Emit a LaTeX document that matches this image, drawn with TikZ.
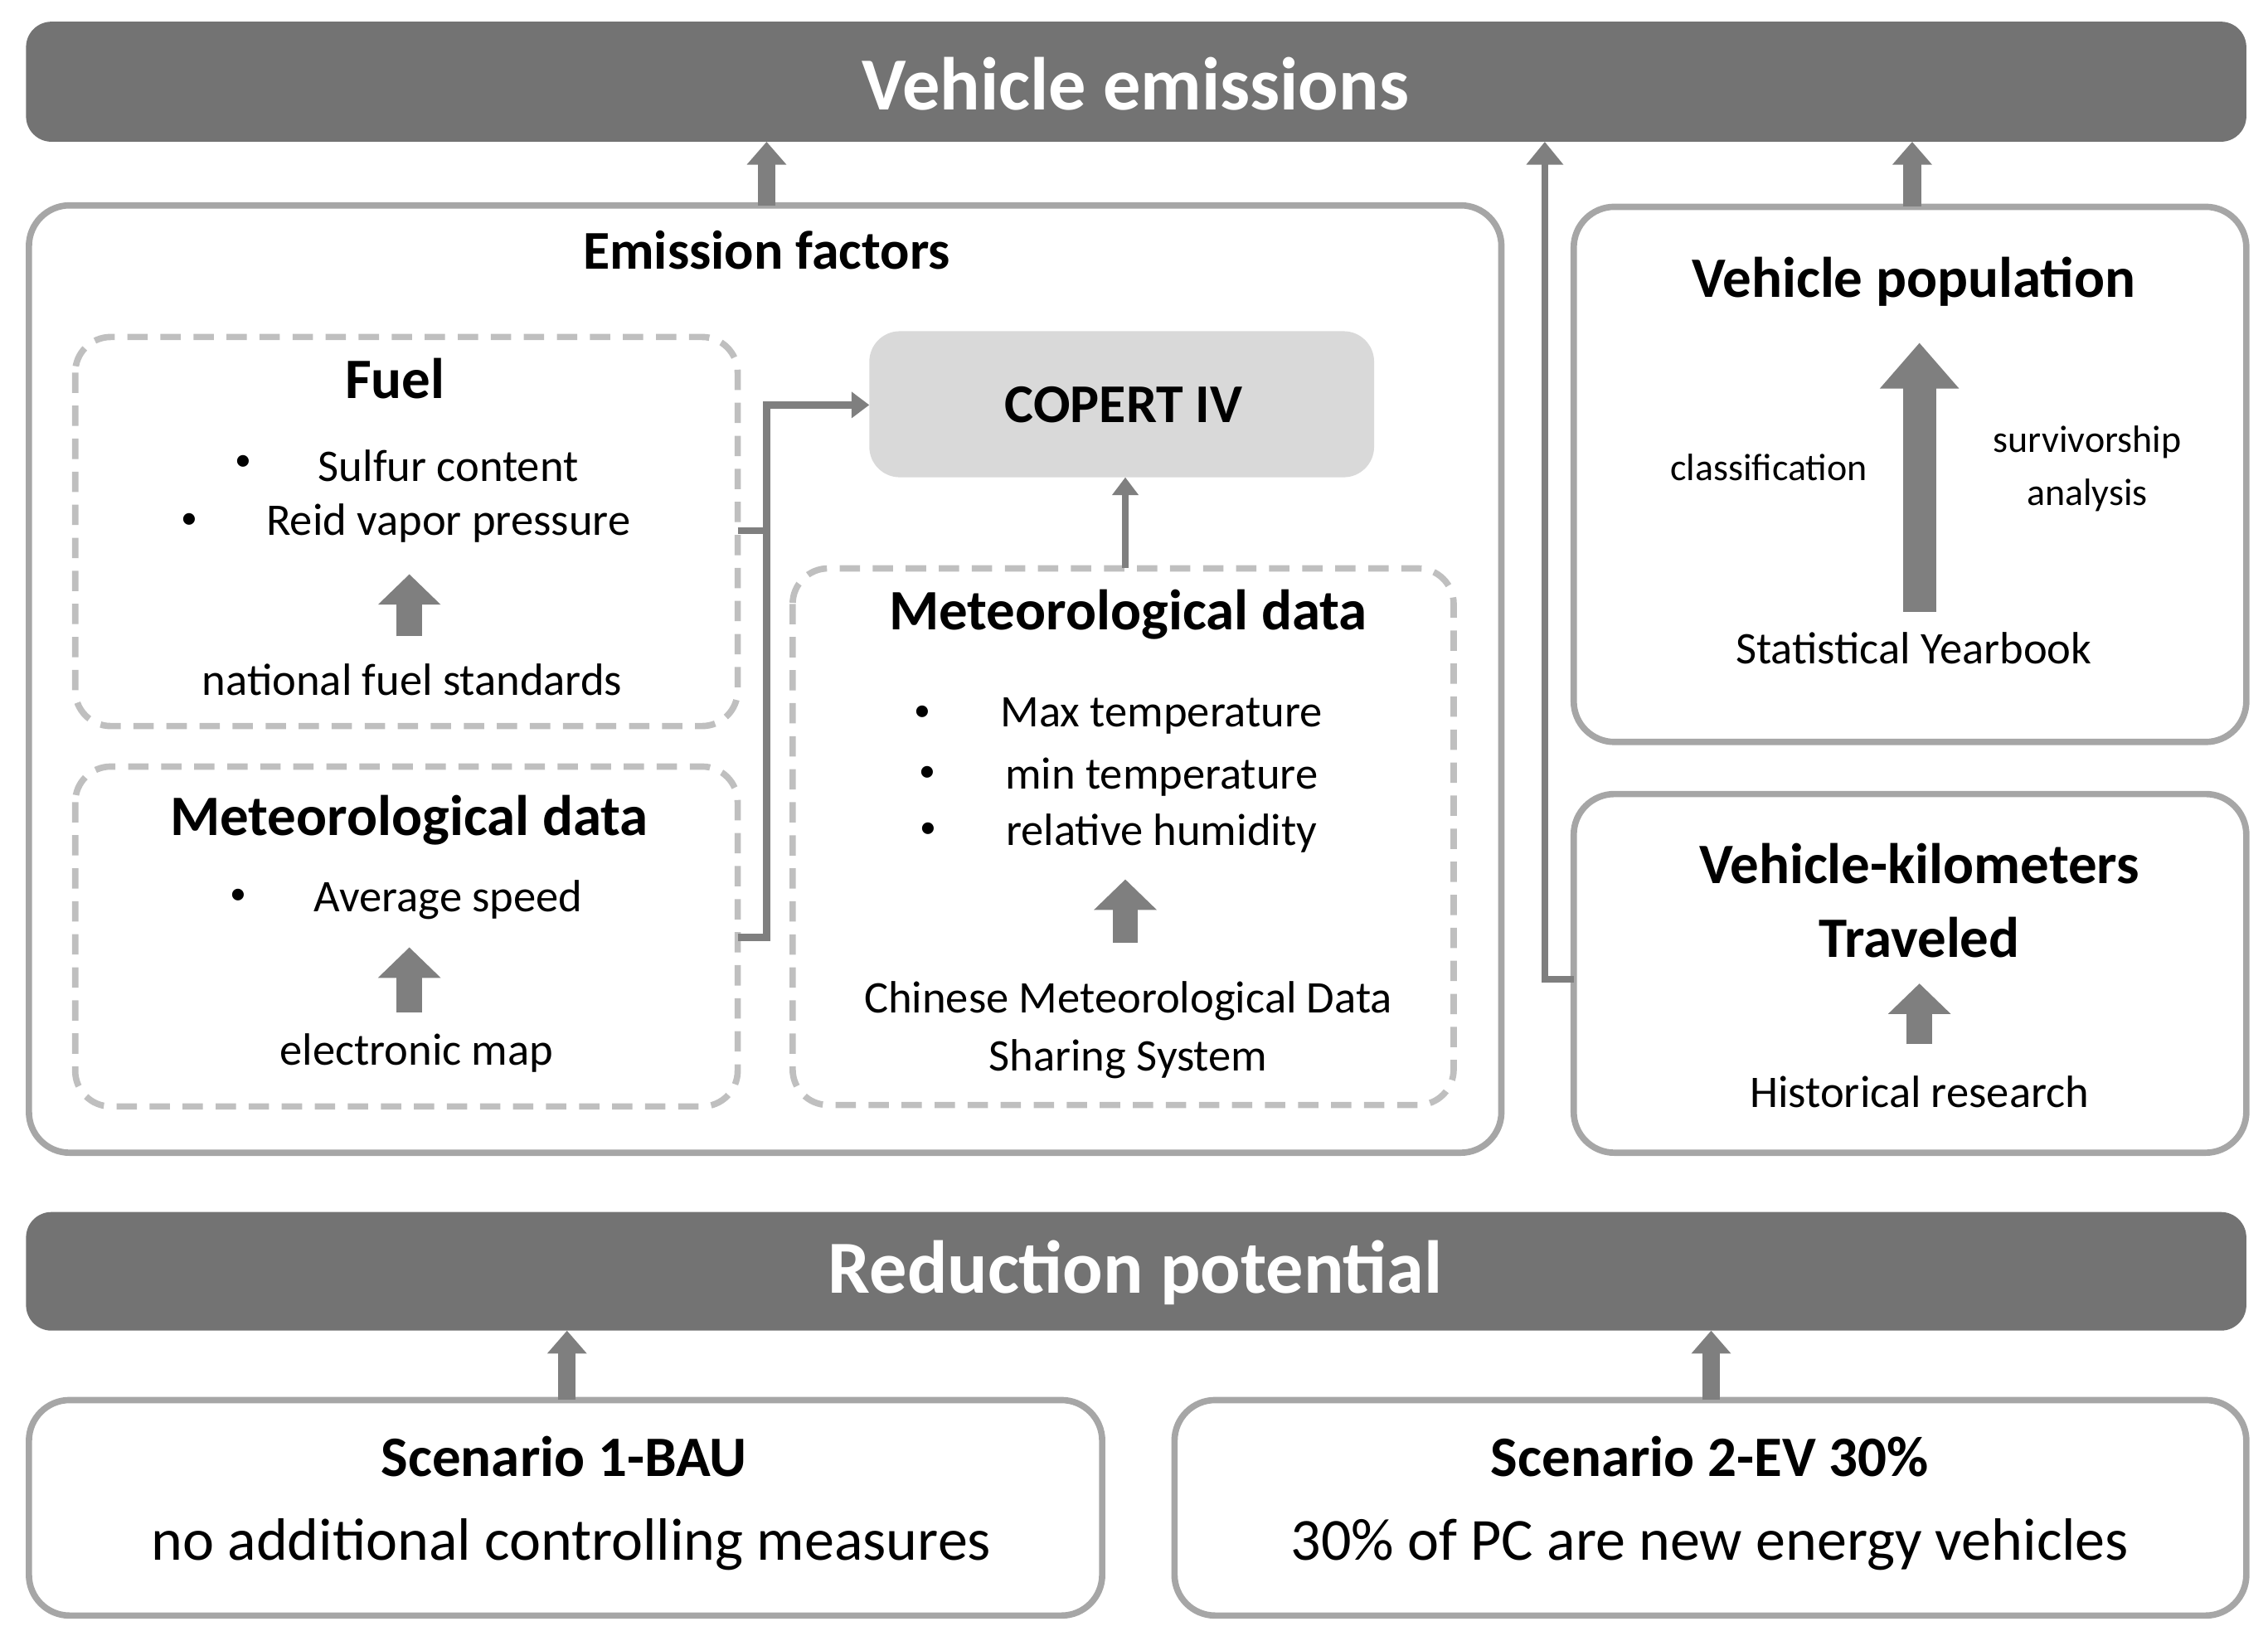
\documentclass[tikz,border=0pt]{standalone}
\usepackage{fontspec}
\setmainfont{Carlito}
\usetikzlibrary{arrows.meta}
\definecolor{bar}{HTML}{737373}
\definecolor{frame}{HTML}{A6A6A6}
\definecolor{dash}{HTML}{BFBFBF}
\definecolor{conn}{HTML}{7F7F7F}
\definecolor{cop}{HTML}{D9D9D9}
\newcommand{\fs}[1]{\fontsize{#1}{1.4\dimexpr#1pt\relax}\selectfont}
\tikzset{
 barbox/.style={fill=bar, rounded corners=10pt, draw=none},
 solidbox/.style={draw=frame, line width=2.5pt, rounded corners=16pt},
 dashbox/.style={draw=dash, line width=2.5pt, rounded corners=14pt, dash pattern=on 8pt off 5pt},
 conn/.style={draw=conn, line width=2.8pt},
 connarrow/.style={conn, -{Triangle[width=10pt,length=7pt]}},
 uparrow/.style={draw=conn, line width=7pt, -{Triangle[width=15pt,length=9pt]}},
 blockarrow/.style={draw=conn, line width=10pt, -{Triangle[width=24pt,length=12pt]}},
 bigarrow/.style={draw=conn, line width=13pt, -{Triangle[width=30pt,length=18pt]}},
 txt/.style={inner sep=0pt, font=\fs{17.8}},
 head/.style={inner sep=0pt, font=\fs{22.5}\bfseries},
 bul/.style={inner sep=0pt, font=\fs{13}},
}
\begin{document}
\begin{tikzpicture}[x=0.02cm,y=-0.02cm]
\useasboundingbox (0,0) rectangle (1568,1131);
% bars
\path[barbox] (18,15) rectangle (1553,98);
\node[inner sep=0pt, text=white, font=\fs{29.5}\bfseries] (ve) at (785,58) {Vehicle emissions};
\path[barbox] (18,838) rectangle (1553,920);
\node[inner sep=0pt, text=white, font=\fs{29.5}\bfseries] (rp) at (785,880) {Reduction potential};
% emission factors box
\draw[solidbox] (20,142) rectangle (1038,797);
\node[head, font=\fs{21.5}\bfseries] (ef) at (530,173) {Emission factors};
% fuel
\draw[dashbox] (52,233) rectangle (510,502);
\node[head] (fuel) at (273,262) {Fuel};
\node[bul] at (168,320) {•};
\node[txt] (sc) at (310,322) {Sulfur content};
\node[bul] at (131,360) {•};
\node[txt] (rvp) at (310,362) {Reid vapor pressure};
\draw[blockarrow] (283,440) -- (283,397);
\node[txt] (nfs) at (285,470) {national fuel standards};
% met left
\draw[dashbox] (52,530) rectangle (510,765);
\node[head] (met1) at (283,567) {Meteorological data};
\node[bul] at (165,620) {•};
\node[txt] (as) at (310,622) {Average speed};
\draw[blockarrow] (283,700) -- (283,655);
\node[txt] (em) at (288,728) {electronic map};
% copert
\path[fill=cop, rounded corners=12pt] (601,229) rectangle (950,330);
\node[head, font=\fs{21.5}\bfseries] (cop) at (777,280) {COPERT IV};
% met right
\draw[dashbox] (548,393) rectangle (1005,764);
\node[head] (met2) at (780,425) {Meteorological data};
\node[bul] at (638,493) {•};
\node[txt] at (803,495) {Max temperature};
\node[bul] at (641,535) {•};
\node[txt] at (803,537) {min temperature};
\node[bul] at (642,574) {•};
\node[txt] at (803,576) {relative humidity};
\draw[blockarrow] (778,652) -- (778,608);
\node[txt] at (780,692) {Chinese Meteorological Data};
\node[txt] at (780,732) {Sharing System};
% connectors
\draw[conn] (510,367) -- (530,367);
\draw[connarrow] (510,648) -- (530,648) -- (530,280) -- (601,280);
\draw[connarrow] (778,393) -- (778,330);
\draw[uparrow] (530,142) -- (530,98);
% vehicle population
\draw[solidbox] (1088,143) rectangle (1553,513);
\node[head] at (1323,195) {Vehicle population};
\draw[bigarrow] (1327,423) -- (1327,237);
\node[txt, font=\fs{15}] at (1223,323) {classification};
\node[txt, font=\fs{15}, align=center] at (1443,324) {survivorship\\analysis};
\node[txt] at (1323,448) {Statistical Yearbook};
\draw[uparrow] (1322,143) -- (1322,98);
% VKT
\draw[solidbox] (1088,549) rectangle (1553,797);
\node[head] at (1327,597) {Vehicle-kilometers};
\node[head] at (1327,648) {Traveled};
\draw[blockarrow] (1327,722) -- (1327,680);
\node[txt] at (1327,755) {Historical research};
\draw[conn, -{Triangle[width=14pt,length=9pt]}] (1088,677) -- (1068,677) -- (1068,98);
% scenarios
\draw[solidbox] (20,968) rectangle (762,1117);
\node[head] at (390,1007) {Scenario 1-BAU};
\node[txt, font=\fs{23.5}] at (395,1068) {no additional controlling measures};
\draw[solidbox] (812,968) rectangle (1553,1117);
\node[head] at (1182,1007) {Scenario 2-EV 30\%};
\node[txt, font=\fs{23.5}] at (1182,1068) {30\% of PC are new energy vehicles};
\draw[uparrow] (392,968) -- (392,920);
\draw[uparrow] (1183,968) -- (1183,920);
\end{tikzpicture}
\end{document}
